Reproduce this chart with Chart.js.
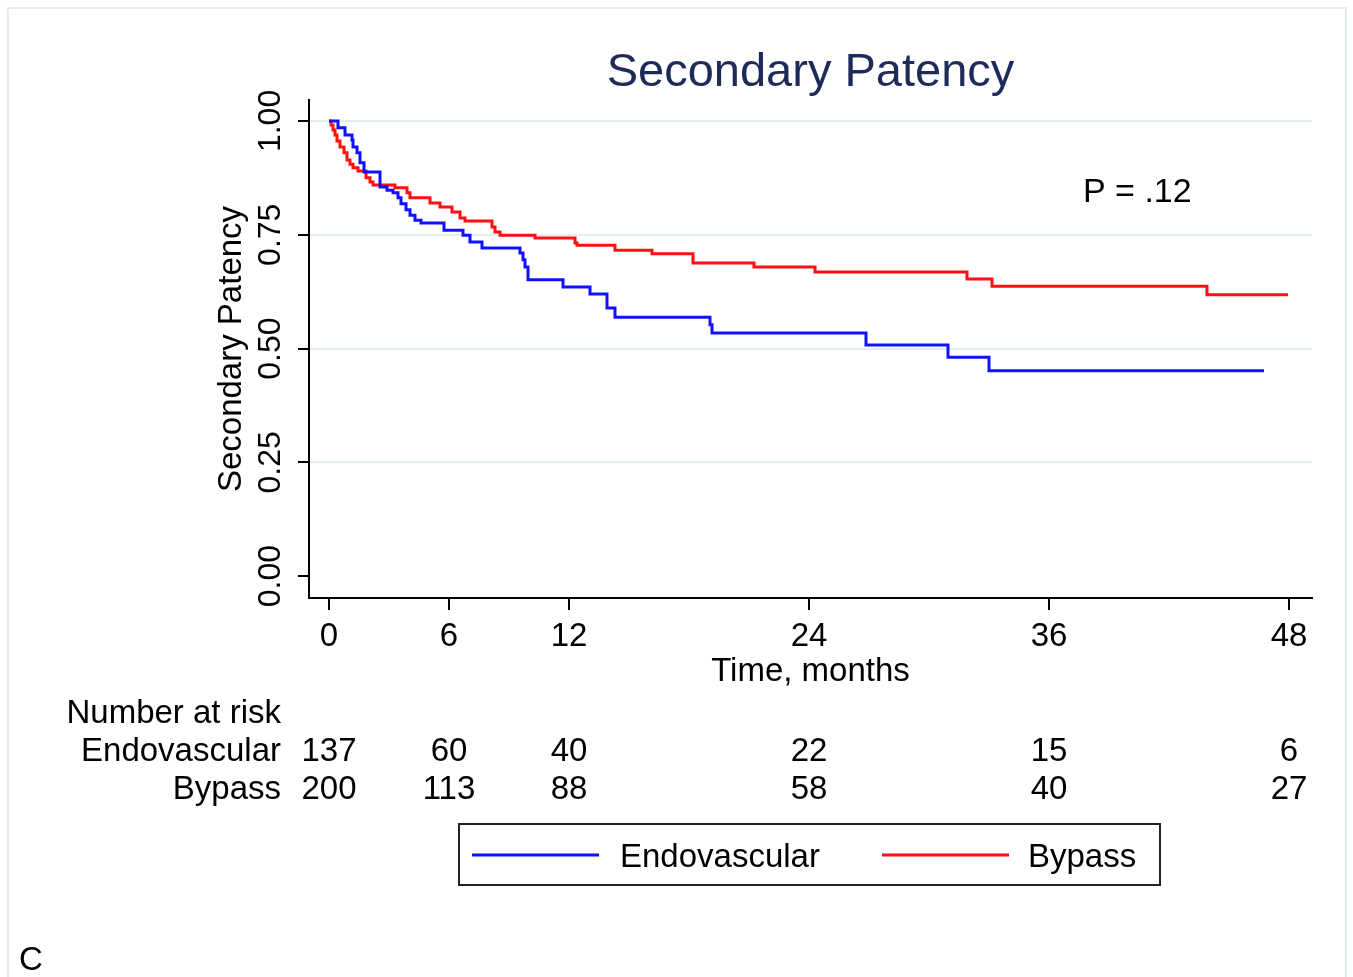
<!DOCTYPE html>
<html>
<head>
<meta charset="utf-8">
<script src="https://cdn.jsdelivr.net/npm/chart.js@4"></script>
<style>
  html, body { margin: 0; padding: 0; background: #ffffff; }
  #wrap { width: 1353px; height: 977px; }
</style>
</head>
<body>
<div id="wrap"><canvas id="c" width="1353" height="977"></canvas></div>
<script>
// ---- Data (Kaplan-Meier steps) ----
const endoTimes = [0, 0.45, 0.8, 1.15, 1.2, 1.4, 1.55, 1.75, 2.55, 2.9, 3.2, 3.45, 3.6, 3.85, 4.05, 4.3, 4.6, 5.75, 6.7, 7.05, 7.65, 9.55, 9.7, 9.8, 9.95, 11.7, 13.05, 13.9, 14.3, 19.05, 19.15, 26.85, 30.95, 33.0, 46.75];
const endoSurv  = [1.0, 0.985, 0.969, 0.958, 0.943, 0.930, 0.908, 0.888, 0.855, 0.848, 0.842, 0.831, 0.818, 0.805, 0.793, 0.782, 0.776, 0.760, 0.749, 0.734, 0.721, 0.710, 0.695, 0.679, 0.651, 0.635, 0.620, 0.589, 0.569, 0.552, 0.534, 0.508, 0.481, 0.451, 0.451];

const bypassTimes = [0, 0.1, 0.2, 0.3, 0.4, 0.55, 0.75, 0.9, 1.05, 1.2, 1.45, 1.85, 2.05, 2.2, 3.3, 3.9, 4.05, 5.05, 5.55, 6.15, 6.55, 6.8, 8.15, 8.3, 8.55, 10.3, 12.3, 12.4, 14.3, 16.15, 18.2, 21.25, 24.3, 31.9, 33.15, 43.9, 47.95];
const bypassSurv  = [1.0, 0.991, 0.980, 0.969, 0.956, 0.943, 0.930, 0.914, 0.905, 0.897, 0.890, 0.875, 0.866, 0.859, 0.853, 0.842, 0.831, 0.820, 0.811, 0.800, 0.787, 0.780, 0.767, 0.756, 0.749, 0.743, 0.732, 0.727, 0.716, 0.708, 0.688, 0.679, 0.668, 0.653, 0.637, 0.618, 0.618];

const seriesNames = ['Endovascular', 'Bypass'];
const xTickValues = [0, 6, 12, 24, 36, 48];
const yTickValues = [0, 0.25, 0.5, 0.75, 1.0];

const riskTimes  = [0, 6, 12, 24, 36, 48];
const riskEndo   = [137, 60, 40, 22, 15, 6];
const riskBypass = [200, 113, 88, 58, 40, 27];

const titleText  = 'Secondary Patency';
const yTitleText = 'Secondary Patency';
const xTitleText = 'Time, months';
const pValueText = 'P = .12';
const panelText  = 'C';
const riskHeader = 'Number at risk';

// ---- Build ----
const FONT = '"Liberation Sans", Arial, Helvetica, sans-serif';
const toPts = (xs, ys) => xs.map((x, i) => ({ x: x, y: ys[i] }));

const extras = {
  id: 'extras',
  beforeDraw(chart) {
    const ctx = chart.ctx;
    ctx.save();
    ctx.fillStyle = '#ffffff';
    ctx.fillRect(0, 0, chart.width, chart.height);
    ctx.strokeStyle = '#e2eeee';
    ctx.lineWidth = 2;
    ctx.strokeRect(8, 8, 1338, 990);
    ctx.restore();
  },
  afterDraw(chart) {
    const ctx = chart.ctx;
    const xs = chart.scales.x;
    const area = chart.chartArea;
    ctx.save();
    // Title
    ctx.fillStyle = '#1e2a5a';
    ctx.font = '47px ' + FONT;
    ctx.textAlign = 'center';
    ctx.textBaseline = 'alphabetic';
    ctx.fillText(titleText, (area.left + area.right) / 2, 86);
    // P value
    ctx.fillStyle = '#000';
    ctx.font = '34px ' + FONT;
    ctx.textAlign = 'left';
    ctx.fillText(pValueText, 1083, 202);
    // Risk table
    ctx.font = '33px ' + FONT;
    ctx.textAlign = 'right';
    ctx.fillText(riskHeader, 281, 723);
    ctx.fillText(seriesNames[0], 281, 761);
    ctx.fillText(seriesNames[1], 281, 799);
    ctx.textAlign = 'center';
    riskTimes.forEach((t, i) => {
      const px = xs.getPixelForValue(t);
      ctx.fillText(String(riskEndo[i]), px, 761);
      ctx.fillText(String(riskBypass[i]), px, 799);
    });
    // Legend box
    ctx.strokeStyle = '#222';
    ctx.lineWidth = 2;
    ctx.strokeRect(459, 824, 701, 61);
    const ds = chart.data.datasets;
    const legendItems = [
      { x0: 472, x1: 599, tx: 620 },
      { x0: 882, x1: 1009, tx: 1028 }
    ];
    legendItems.forEach((li, i) => {
      ctx.strokeStyle = ds[i].borderColor;
      ctx.lineWidth = 3;
      ctx.beginPath();
      ctx.moveTo(li.x0, 855);
      ctx.lineTo(li.x1, 855);
      ctx.stroke();
      ctx.fillStyle = '#000';
      ctx.textAlign = 'left';
      ctx.fillText(ds[i].label, li.tx, 867);
    });
    // Panel letter
    ctx.font = '33px ' + FONT;
    ctx.fillText(panelText, 19, 970);
    ctx.restore();
  }
};

new Chart(document.getElementById('c'), {
  type: 'line',
  data: {
    datasets: [
      {
        label: seriesNames[0],
        data: toPts(endoTimes, endoSurv),
        borderColor: '#1010ff',
        borderWidth: 3,
        pointRadius: 0,
        stepped: 'before',
        fill: false
      },
      {
        label: seriesNames[1],
        data: toPts(bypassTimes, bypassSurv),
        borderColor: '#ff1010',
        borderWidth: 3,
        pointRadius: 0,
        stepped: 'before',
        fill: false
      }
    ]
  },
  options: {
    responsive: false,
    animation: false,
    devicePixelRatio: 1,
    layout: { padding: { left: 0, top: 100, right: 41, bottom: 0 } },
    plugins: {
      legend: { display: false },
      title: { display: false },
      tooltip: { enabled: false }
    },
    scales: {
      x: {
        type: 'linear',
        min: -1,
        max: 49.15,
        afterBuildTicks: (s) => { s.ticks = xTickValues.map(v => ({ value: v })); },
        afterFit: (s) => { s.height = 379; },
        grid: { drawOnChartArea: false, color: '#000', tickLength: 12, lineWidth: 2 },
        border: { display: true, color: '#000', width: 2 },
        ticks: {
          autoSkip: false, maxRotation: 0, minRotation: 0,
          color: '#000', padding: 7,
          font: { family: FONT, size: 33 },
          callback: (v) => String(v)
        },
        title: {
          display: true, text: xTitleText, color: '#000',
          font: { family: FONT, size: 33 },
          padding: { top: 0, bottom: 285 }
        }
      },
      y: {
        type: 'linear',
        min: -0.048,
        max: 1.046,
        afterBuildTicks: (s) => { s.ticks = yTickValues.map(v => ({ value: v })); },
        afterFit: (s) => { s.width = 309; },
        grid: {
          color: (c) => (c.tick && c.tick.value === 0) ? 'rgba(0,0,0,0)' : '#e3eef0',
          tickColor: '#000',
          tickLength: 11,
          lineWidth: 2
        },
        border: { display: true, color: '#000', width: 2 },
        ticks: {
          autoSkip: false, minRotation: 90, maxRotation: 90, crossAlign: 'center',
          color: '#000', padding: -4,
          font: { family: FONT, size: 32 },
          callback: (v) => Number(v).toFixed(2)
        },
        title: {
          display: true, text: yTitleText, color: '#000',
          font: { family: FONT, size: 33 },
          padding: { top: 212, bottom: 0 }
        }
      }
    }
  },
  plugins: [extras]
});
</script>
</body>
</html>
